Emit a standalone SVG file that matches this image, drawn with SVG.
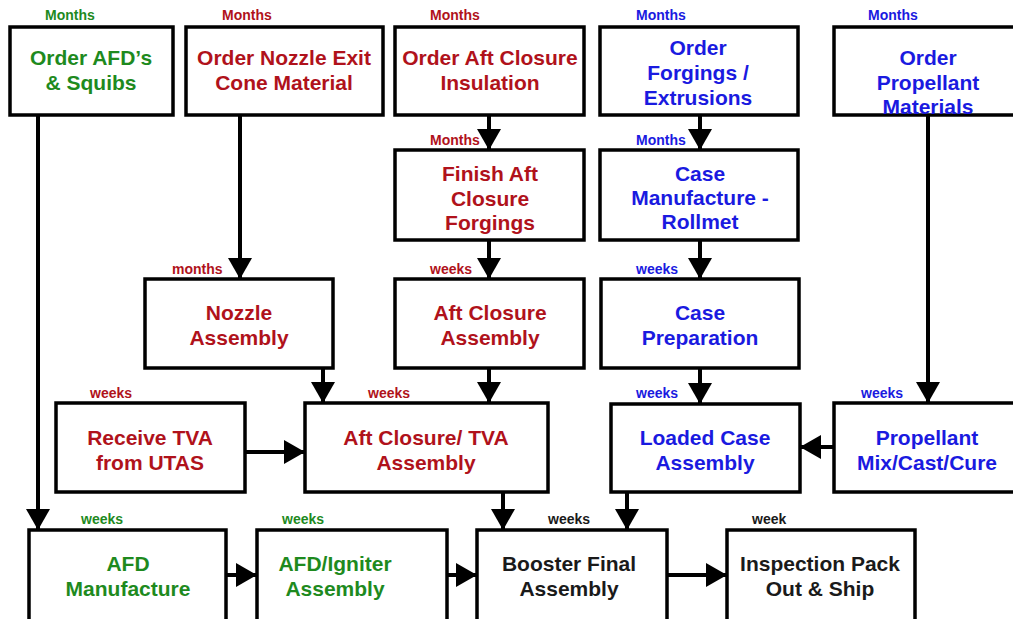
<svg xmlns="http://www.w3.org/2000/svg" width="1013" height="619" viewBox="0 0 1013 619">
  <style>
    .box { fill: #ffffff; stroke: #000000; stroke-width: 3.5; }
    .t { font-family: "Liberation Sans", Arial, sans-serif; font-weight: bold; font-size: 21px; text-anchor: middle; }
    .lb { font-family: "Liberation Sans", Arial, sans-serif; font-weight: bold; font-size: 14px; }
    .g { fill: #1e8a1e; }
    .r { fill: #b0121b; }
    .b { fill: #1a1ae0; }
    .k { fill: #1a1a1a; }
    .c { fill: none; stroke: #000000; stroke-width: 4; marker-end: url(#ah); }
  </style>
  <defs>
    <marker id="ah" markerUnits="userSpaceOnUse" markerWidth="21" markerHeight="24" viewBox="0 0 21 24" refX="20" refY="12" orient="auto">
      <path d="M0,0 L21,12 L0,24 Z" fill="#000000"/>
    </marker>
  </defs>
  <rect width="1013" height="619" fill="#ffffff"/>

  <!-- duration labels -->
  <g id="labels">
    <text class="lb g" x="45" y="20">Months</text>
    <text class="lb r" x="222" y="20">Months</text>
    <text class="lb r" x="430" y="20">Months</text>
    <text class="lb b" x="636" y="20">Months</text>
    <text class="lb b" x="868" y="20">Months</text>
    <text class="lb r" x="430" y="145">Months</text>
    <text class="lb b" x="636" y="145">Months</text>
    <text class="lb r" x="172" y="274">months</text>
    <text class="lb r" x="430" y="274">weeks</text>
    <text class="lb b" x="636" y="274">weeks</text>
    <text class="lb r" x="90" y="398">weeks</text>
    <text class="lb r" x="368" y="398">weeks</text>
    <text class="lb b" x="636" y="398">weeks</text>
    <text class="lb b" x="861" y="398">weeks</text>
    <text class="lb g" x="81" y="524">weeks</text>
    <text class="lb g" x="282" y="524">weeks</text>
    <text class="lb k" x="548" y="524">weeks</text>
    <text class="lb k" x="752" y="524">week</text>
  </g>

  <!-- connectors -->
  <g id="connectors">
    <line class="c" x1="38" y1="115" x2="38" y2="529"/>
    <line class="c" x1="240" y1="115" x2="240" y2="278"/>
    <line class="c" x1="489" y1="115" x2="489" y2="149"/>
    <line class="c" x1="489" y1="240" x2="489" y2="278"/>
    <line class="c" x1="700" y1="115" x2="700" y2="149"/>
    <line class="c" x1="700" y1="240" x2="700" y2="278"/>
    <line class="c" x1="700" y1="368" x2="700" y2="403"/>
    <line class="c" x1="928" y1="115" x2="928" y2="402"/>
    <line class="c" x1="323" y1="368" x2="323" y2="402"/>
    <line class="c" x1="489" y1="368" x2="489" y2="402"/>
    <line class="c" x1="245" y1="452" x2="304" y2="452"/>
    <line class="c" x1="834" y1="447" x2="801" y2="447"/>
    <line class="c" x1="503" y1="492" x2="503" y2="529"/>
    <line class="c" x1="627" y1="492" x2="627" y2="529"/>
    <line class="c" x1="226" y1="575" x2="256" y2="575"/>
    <line class="c" x1="447" y1="575" x2="476" y2="575"/>
    <line class="c" x1="667" y1="575" x2="726" y2="575"/>
  </g>

  <!-- top row: ordering -->
  <g id="order-afd">
    <rect class="box" x="10" y="27" width="163" height="88"/>
    <text class="t g" x="91" y="65">Order AFD’s</text>
    <text class="t g" x="91" y="90">&amp; Squibs</text>
  </g>
  <g id="order-nozzle">
    <rect class="box" x="186" y="27" width="197" height="88"/>
    <text class="t r" x="284" y="65">Order Nozzle Exit</text>
    <text class="t r" x="284" y="90">Cone Material</text>
  </g>
  <g id="order-aft-insulation">
    <rect class="box" x="395" y="27" width="189" height="88"/>
    <text class="t r" x="490" y="65">Order Aft Closure</text>
    <text class="t r" x="490" y="90">Insulation</text>
  </g>
  <g id="order-forgings">
    <rect class="box" x="600" y="27" width="198" height="88"/>
    <text class="t b" x="698" y="55">Order</text>
    <text class="t b" x="698" y="80">Forgings /</text>
    <text class="t b" x="698" y="105">Extrusions</text>
  </g>
  <g id="order-propellant">
    <rect class="box" x="834" y="27" width="185" height="88"/>
    <text class="t b" x="928" y="65">Order</text>
    <text class="t b" x="928" y="90">Propellant</text>
    <text class="t b" x="928" y="114">Materials</text>
  </g>

  <!-- second row -->
  <g id="finish-aft-forgings">
    <rect class="box" x="395" y="150" width="189" height="90"/>
    <text class="t r" x="490" y="181">Finish Aft</text>
    <text class="t r" x="490" y="206">Closure</text>
    <text class="t r" x="490" y="230">Forgings</text>
  </g>
  <g id="case-manufacture">
    <rect class="box" x="600" y="150" width="198" height="90"/>
    <text class="t b" x="700" y="181">Case</text>
    <text class="t b" x="700" y="205">Manufacture -</text>
    <text class="t b" x="700" y="229">Rollmet</text>
  </g>

  <!-- third row -->
  <g id="nozzle-assembly">
    <rect class="box" x="145" y="279" width="188" height="89"/>
    <text class="t r" x="239" y="320">Nozzle</text>
    <text class="t r" x="239" y="345">Assembly</text>
  </g>
  <g id="aft-closure-assembly">
    <rect class="box" x="395" y="279" width="189" height="89"/>
    <text class="t r" x="490" y="320">Aft Closure</text>
    <text class="t r" x="490" y="345">Assembly</text>
  </g>
  <g id="case-preparation">
    <rect class="box" x="601" y="279" width="198" height="89"/>
    <text class="t b" x="700" y="320">Case</text>
    <text class="t b" x="700" y="345">Preparation</text>
  </g>

  <!-- fourth row -->
  <g id="receive-tva">
    <rect class="box" x="56" y="403" width="189" height="89"/>
    <text class="t r" x="150" y="445">Receive TVA</text>
    <text class="t r" x="150" y="470">from UTAS</text>
  </g>
  <g id="aft-closure-tva">
    <rect class="box" x="305" y="403" width="243" height="89"/>
    <text class="t r" x="426" y="445">Aft Closure/ TVA</text>
    <text class="t r" x="426" y="470">Assembly</text>
  </g>
  <g id="loaded-case">
    <rect class="box" x="611" y="404" width="189" height="88"/>
    <text class="t b" x="705" y="445">Loaded Case</text>
    <text class="t b" x="705" y="470">Assembly</text>
  </g>
  <g id="propellant-mix">
    <rect class="box" x="834" y="403" width="185" height="89"/>
    <text class="t b" x="927" y="445">Propellant</text>
    <text class="t b" x="927" y="470">Mix/Cast/Cure</text>
  </g>

  <!-- bottom row -->
  <g id="afd-manufacture">
    <rect class="box" x="29" y="530" width="197" height="95"/>
    <text class="t g" x="128" y="571">AFD</text>
    <text class="t g" x="128" y="596">Manufacture</text>
  </g>
  <g id="afd-igniter">
    <rect class="box" x="257" y="530" width="190" height="95"/>
    <text class="t g" x="335" y="571">AFD/Igniter</text>
    <text class="t g" x="335" y="596">Assembly</text>
  </g>
  <g id="booster-final">
    <rect class="box" x="477" y="530" width="190" height="95"/>
    <text class="t k" x="569" y="571">Booster Final</text>
    <text class="t k" x="569" y="596">Assembly</text>
  </g>
  <g id="inspection-ship">
    <rect class="box" x="727" y="530" width="188" height="95"/>
    <text class="t k" x="820" y="571">Inspection Pack</text>
    <text class="t k" x="820" y="596">Out &amp; Ship</text>
  </g>
</svg>
